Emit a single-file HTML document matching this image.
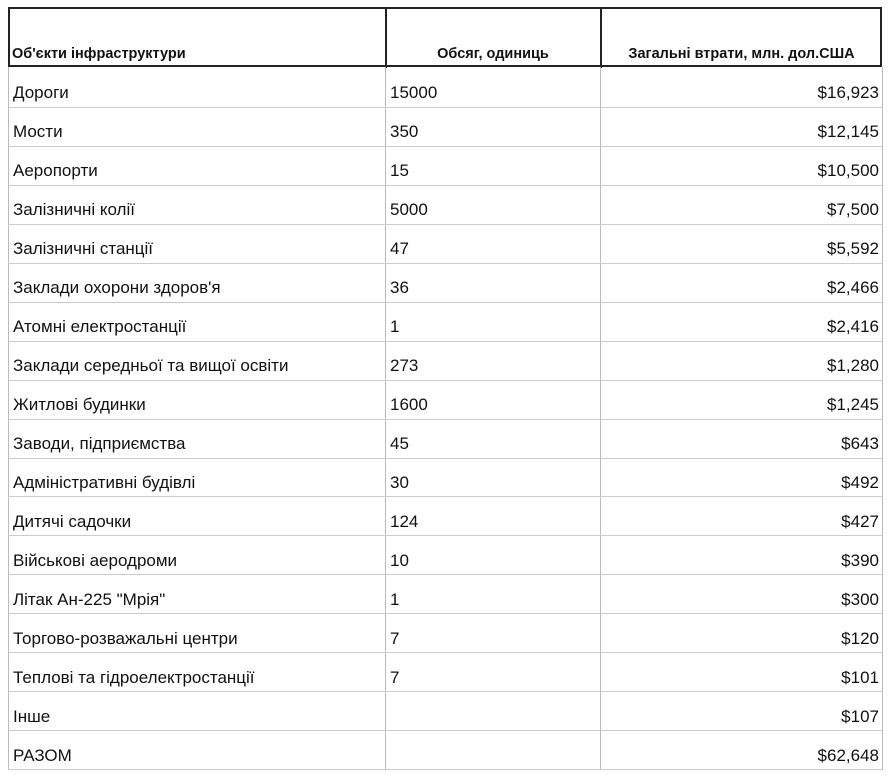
<!DOCTYPE html>
<html><head><meta charset="utf-8"><style>
body{margin:0;background:#fff;width:894px;height:776px;position:relative;overflow:hidden;font-family:"Liberation Sans","DejaVu Sans",sans-serif;color:#111}
.h{position:absolute;left:8px;top:7px;width:874px;height:60px;border:2px solid #222;box-sizing:border-box}
.vl{position:absolute;width:1px;background:#bbb}
.hl{position:absolute;left:8px;width:875px;height:1px;background:#ccc}
.t{position:absolute;font-size:17px;line-height:20px;white-space:nowrap}
.hd{position:absolute;font-size:14.5px;font-weight:bold;top:46px;white-space:nowrap}
</style></head><body>
<div class="h"></div>
<div class="vl" style="left:385px;top:7px;height:61px;background:#222;width:2px"></div>
<div class="vl" style="left:600px;top:7px;height:61px;background:#222;width:2px"></div>
<div class="vl" style="left:8px;top:67px;height:703px"></div>
<div class="vl" style="left:385px;top:67px;height:703px"></div>
<div class="vl" style="left:600px;top:67px;height:703px"></div>
<div class="vl" style="left:882px;top:67px;height:703px"></div>
<div class="hd" style="left:12px">Об'єкти інфраструктури</div>
<div class="hd" style="left:386px;width:214px;text-align:center">Обсяг, одиниць</div>
<div class="hd" style="left:601px;width:281px;text-align:center">Загальні втрати, млн. дол.США</div>
<div id="rows"></div>
<script>
var d=[["Дороги","15000","$16,923"],["Мости","350","$12,145"],["Аеропорти","15","$10,500"],["Залізничні колії","5000","$7,500"],["Залізничні станції","47","$5,592"],["Заклади охорони здоров'я","36","$2,466"],["Атомні електростанції","1","$2,416"],["Заклади середньої та вищої освіти","273","$1,280"],["Житлові будинки","1600","$1,245"],["Заводи, підприємства","45","$643"],["Адміністративні будівлі","30","$492"],["Дитячі садочки","124","$427"],["Військові аеродроми","10","$390"],["Літак Ан-225 \"Мрія\"","1","$300"],["Торгово-розважальні центри","7","$120"],["Теплові та гідроелектростанції","7","$101"],["Інше","","$107"],["РАЗОМ","","$62,648"]];
var h="",rh=38.95;
d.forEach(function(r,i){var y=68+i*rh;var ty=y+rh/2-4;
h+='<div class="t" style="left:13px;top:'+ty+'px">'+r[0]+'</div>';
h+='<div class="t" style="left:390px;top:'+ty+'px">'+r[1]+'</div>';
h+='<div class="t" style="right:15px;top:'+ty+'px">'+r[2]+'</div>';
h+='<div class="hl" style="top:'+(y+rh)+'px"></div>';});
document.getElementById("rows").innerHTML=h;
</script>
</body></html>
